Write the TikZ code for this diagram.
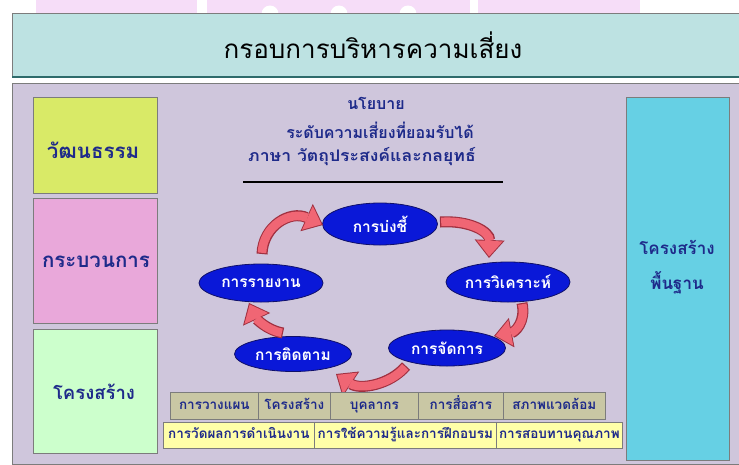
\documentclass[tikz,border=0pt]{standalone}
\usepackage{fontspec}
\newfontfamily\thai[Script=Thai]{Loma}
\newfontfamily\thaiwide[Script=Thai,FakeStretch=1.1]{Loma}
\usetikzlibrary{arrows.meta,shapes.geometric}
\definecolor{pinkbg}{HTML}{F6DDF8}
\definecolor{titlefill}{HTML}{BDE2E2}
\definecolor{titleline}{HTML}{2E6B6B}
\definecolor{panel}{HTML}{CFC6DC}
\definecolor{boxline}{HTML}{7C7C7C}
\definecolor{ygreen}{HTML}{D9EA67}
\definecolor{pinkbox}{HTML}{E9A8DA}
\definecolor{lgreen}{HTML}{CCFFCC}
\definecolor{cyanbox}{HTML}{66D0E4}
\definecolor{navytext}{HTML}{1E2A8A}
\definecolor{ellfill}{HTML}{0A18D8}
\definecolor{ellline}{HTML}{10106A}
\definecolor{khaki}{HTML}{C9C7A4}
\definecolor{lyellow}{HTML}{FFFFA8}
\definecolor{arrowfill}{HTML}{F06674}
\definecolor{arrowline}{HTML}{A03040}
\tikzset{
  bigbox/.style={draw=boxline, line width=0.8pt, inner sep=0pt},
  boxtext/.style={text=navytext, inner sep=0pt, font=\thai\bfseries\fontsize{20.5}{24}\selectfont},
  cyc/.style={ellipse, draw=ellline, line width=0.8pt, fill=ellfill, inner sep=0pt, text=white, font=\thai\bfseries\fontsize{15.5}{18}\selectfont},
  cell/.style={draw=boxline, line width=0.7pt, inner sep=0pt, text=navytext, text height=10pt, text depth=3pt, font=\thai\bfseries\fontsize{13.5}{15}\selectfont},
  policy/.style={text=navytext, font=\thai\bfseries\fontsize{16}{18}\selectfont, inner sep=0pt},
  bigarrow/.style={draw=arrowline, line width=11pt, -{Triangle[length=18pt,width=30pt,line width=0pt]}},
  bigarrowin/.style={draw=arrowfill, line width=8.6pt, shorten >=1.6pt, shorten <=1.2pt, -{Triangle[length=15.5pt,width=26pt,line width=0pt]}}
}
\begin{document}
\begin{tikzpicture}[x=1pt,y=-1pt]
\useasboundingbox (0,0) rectangle (739,464);
\fill[white] (0,0) rectangle (739,464);
% faint pink strip at the top
\fill[pinkbg] (36,0) rectangle (197,13);
\fill[pinkbg] (207,0) rectangle (470,13);
\fill[pinkbg] (478,0) rectangle (640,13);
\foreach \bx in {270,339,408} \fill[white] (\bx,14) circle (8.5pt);
% title band
\node[draw=boxline, line width=0.8pt, fill=titlefill, minimum width=727pt, minimum height=63pt, inner sep=0pt, anchor=north west] (title) at (12,13) {};
\draw[titleline, line width=2.6pt] (title.south west) -- (title.south east);
\node[font=\thai\fontsize{26}{30}\selectfont, text=black] (ttext) at (373,45) {กรอบการบริหารความเสี่ยง};
% main panel
\node[draw=boxline, line width=0.8pt, fill=panel, minimum width=727pt, minimum height=381pt, inner sep=0pt, anchor=north west] (panel) at (12,83) {};
% left boxes
\node[bigbox, fill=ygreen, minimum width=124pt, minimum height=96pt, anchor=north west] (culture) at (33,97) {};
\node[bigbox, fill=pinkbox, minimum width=124pt, minimum height=125pt, anchor=north west] (process) at (33,198) {};
\node[bigbox, fill=lgreen, minimum width=124pt, minimum height=124pt, anchor=north west] (struct) at (33,329) {};
\node[boxtext] (culturet) at (93,150) {วัฒนธรรม};
\node[boxtext] (processt) at (96,262) {กระบวนการ};
\node[boxtext, font=\thai\bfseries\fontsize{18.5}{22}\selectfont] (structt) at (94,392) {โครงสร้าง};
% right box
\node[bigbox, fill=cyanbox, minimum width=103pt, minimum height=363pt, anchor=north west] (infra) at (626,97) {};
\node[boxtext, font=\thai\bfseries\fontsize{17}{20}\selectfont] (infrat1) at (677,247) {โครงสร้าง};
\node[boxtext, font=\thai\bfseries\fontsize{17}{20}\selectfont] (infrat2) at (677,283) {พื้นฐาน};
% policy text
\node[policy] (pol1) at (376,103) {นโยบาย};
\node[policy] (pol2) at (380,130) {ระดับความเสี่ยงที่ยอมรับได้};
\node[policy, font=\thaiwide\bfseries\fontsize{16}{18}\selectfont] (pol3) at (362,157) {ภาษา วัตถุประสงค์และกลยุทธ์};
\coordinate (ulL) at (243,182);
\coordinate (ulR) at (503,182);
\draw[black, line width=1.8pt] (ulL) -- (ulR);
% cycle ellipses
\node[cyc, minimum width=115pt, minimum height=42pt] (ident) at (380,224) {การบ่งชี้};
\node[cyc, minimum width=124pt, minimum height=40pt] (anal) at (508,282) {การวิเคราะห์};
\node[cyc, minimum width=117pt, minimum height=36pt] (manage) at (447,348) {การจัดการ};
\node[cyc, minimum width=117pt, minimum height=35pt] (monit) at (293,354) {การติดตาม};
\node[cyc, minimum width=124pt, minimum height=38pt] (report) at (261,283) {การรายงาน};
% arrow end points
\coordinate (a1s) at (262,254); \coordinate (a1e) at (323,225);
\coordinate (a2s) at (440,222); \coordinate (a2e) at (489,258);
\coordinate (a3s) at (522,303); \coordinate (a3e) at (494,336);
\coordinate (a4s) at (406,366); \coordinate (a4e) at (336,374);
\coordinate (a5s) at (283,333); \coordinate (a5e) at (249,303);
\foreach \st in {bigarrow,bigarrowin}{
  \draw[\st] (a1s) .. controls (263,226) and (290,210) .. (a1e);
  \draw[\st] (a2s) .. controls (470,220) and (490,232) .. (a2e);
  \draw[\st] (a3s) .. controls (526,322) and (515,332) .. (a3e);
  \draw[\st] (a4s) .. controls (390,385) and (360,390) .. (a4e);
  \draw[\st] (a5s) .. controls (266,330) and (256,318) .. (a5e);
}
% bottom rows
\node[cell, fill=khaki, minimum width=88pt, minimum height=27pt, anchor=north west] (c1) at (170,392) {การวางแผน};
\node[cell, fill=khaki, minimum width=72pt, minimum height=27pt, anchor=north west] (c2) at (258,392) {โครงสร้าง};
\node[cell, fill=khaki, minimum width=88pt, minimum height=27pt, anchor=north west] (c3) at (330,392) {บุคลากร};
\node[cell, fill=khaki, minimum width=85pt, minimum height=27pt, anchor=north west] (c4) at (418,392) {การสื่อสาร};
\node[cell, fill=khaki, minimum width=102pt, minimum height=27pt, anchor=north west] (c5) at (503,392) {สภาพแวดล้อม};
\node[cell, fill=lyellow, minimum width=151pt, minimum height=26pt, anchor=north west] (d1) at (163,422) {การวัดผลการดำเนินงาน};
\node[cell, fill=lyellow, minimum width=182pt, minimum height=26pt, anchor=north west] (d2) at (314,422) {การใช้ความรู้และการฝึกอบรม};
\node[cell, fill=lyellow, minimum width=126pt, minimum height=26pt, anchor=north west] (d3) at (496,422) {การสอบทานคุณภาพ};
\end{tikzpicture}
\end{document}
